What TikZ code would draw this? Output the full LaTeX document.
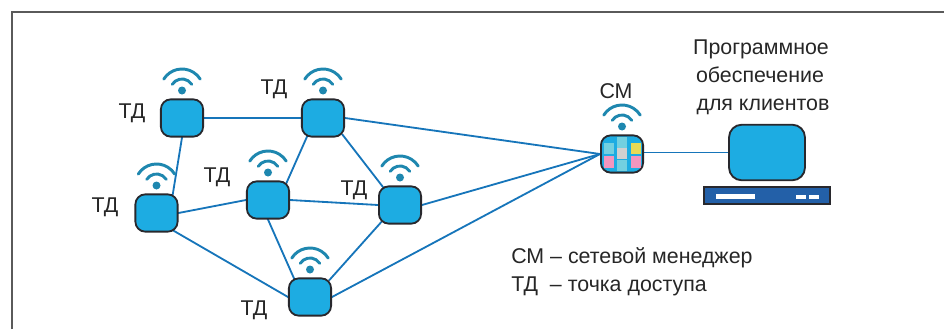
\documentclass[tikz,border=0pt]{standalone}
\usepackage{fontspec}
\setmainfont{Liberation Sans}
\usetikzlibrary{backgrounds}
\definecolor{apblue}{RGB}{29,172,226}
\definecolor{linkblue}{RGB}{22,117,186}
\definecolor{wifiblue}{RGB}{30,135,175}
\definecolor{outline}{RGB}{40,40,45}
\definecolor{baseblue}{RGB}{35,96,168}
\definecolor{frameg}{RGB}{90,90,90}
\definecolor{cellcyan}{RGB}{115,208,224}
\definecolor{cellpink}{RGB}{243,150,190}
\definecolor{cellyellow}{RGB}{232,218,85}
\definecolor{cellgray}{RGB}{208,208,208}
\tikzset{
  apbox/.style={rectangle, draw=outline, line width=1.3pt, fill=apblue, rounded corners=7pt, minimum width=30pt, minimum height=26.5pt, inner sep=0pt},
  link/.style={draw=linkblue, line width=1.3pt, shorten <=-3pt, shorten >=-3pt},
  label/.style={font=\fontsize{15.2}{15.2}\selectfont, text=black!85, inner sep=0pt, anchor=base},
  wave/.style={draw=wifiblue, line width=2.1pt, line cap=round},
  cell/.style={rectangle, inner sep=0pt, minimum width=7.1pt, minimum height=7.9pt},
  bar/.style={rectangle, fill=white, inner sep=0pt, minimum height=3pt},
}
% wifi sign above a box: x and y of the box's top middle
\newcommand{\wifi}[2]{%
  \fill[wifiblue] (#1,#2-8) circle (4);
  \draw[wave] (#1,#2-8) ++(212:11.5) arc[start angle=212, end angle=328, radius=11.5];
  \draw[wave] (#1,#2-8) ++(212:21.5) arc[start angle=212, end angle=328, radius=21.5];
}
\begin{document}
\begin{tikzpicture}[x=0.025cm, y=-0.025cm]
    \useasboundingbox (0,0) rectangle (944,329);
    % Frame
    \coordinate (FL) at (12,329);
    \coordinate (FC) at (12,12);
    \coordinate (FR) at (944,12);
    \draw[frameg, line width=1.4pt] (FL) -- (FC) -- (FR);

    % Access points
    \node[apbox] (AP1) at (182,118) {};
    \node[apbox] (AP2) at (156.5,213) {};
    \node[apbox] (AP3) at (268,200) {};
    \node[apbox] (AP4) at (323,118) {};
    \node[apbox] (AP5) at (400,205) {};
    \node[apbox] (AP6) at (310,297) {};
    \foreach \x/\y in {182/98.5, 156.5/193.5, 268/180.5, 323/98.5, 400/185.5, 310/277.5, 622/134.5}{
      \wifi{\x}{\y}
    }

    % Manager
    \node[apbox] (CM) at (622,154) {};
    \node[cell, fill=cellcyan] (C1) at (609,148.5) {};
    \node[cell, fill=cellpink] (C2) at (609,162) {};
    \node[cell, fill=cellcyan] (C3) at (622,142.5) {};
    \node[cell, fill=cellgray] (C4) at (622,153.5) {};
    \node[cell, fill=cellcyan] (C5) at (622,165.5) {};
    \node[cell, fill=cellyellow] (C6) at (636,148.5) {};
    \node[cell, fill=cellpink] (C7) at (636,162) {};

    % Client terminal
    \node[apbox, minimum width=54pt, minimum height=39.5pt, rounded corners=9pt] (SCR) at (767,152.5) {};
    \node[rectangle, draw=outline, line width=1.3pt, fill=baseblue, minimum width=89.5pt, minimum height=12.5pt, inner sep=0pt] (BASE) at (767,195.5) {};
    \node[bar, minimum width=27.6pt] (B1) at (735.5,196.5) {};
    \node[bar, minimum width=7pt] (B2) at (801,197) {};
    \node[bar, minimum width=7pt] (B3) at (814,197) {};

    % Connections
    \begin{scope}[on background layer]
    \draw[link] (AP1.east) -- (AP4.west);
    \draw[link] (AP1.south) -- (AP2.50);
    \draw[link] (AP2.east) -- (AP3.west);
    \draw[link] (AP2.-44) -- (AP6.west);
    \draw[link] (AP3.south) -- (AP6.130);
    \draw[link] (AP3.45) -- (AP4.-130);
    \draw[link] (AP3.east) -- (AP5.west);
    \draw[link] (AP4.-42) -- (AP5.133);
    \draw[link] (AP5.-137) -- (AP6.42);
    \draw[link] (AP4.east) -- (CM.west);
    \draw[link] (AP5.east) -- (CM.west);
    \draw[link] (AP6.east) -- (CM.west);
    \draw[link] (SCR.west -| CM.east) -- (SCR.west);
    \end{scope}

    % Labels
    \node[label] (L1) at (132,118) {ТД};
    \node[label] (L2) at (105,212) {ТД};
    \node[label] (L3) at (217,182) {ТД};
    \node[label] (L4) at (274,94) {ТД};
    \node[label] (L5) at (354,195) {ТД};
    \node[label] (L6) at (254,315) {ТД};
    \node[label] (L7) at (616,98) {СМ};
    \node[label] (T1) at (761,54) {Программное};
    \node[label] (T2) at (760,82) {обеспечение};
    \node[label] (T3) at (763,110) {для клиентов};
    \node[label, anchor=base west] (K1) at (511,263) {СМ -- сетевой менеджер};
    \node[label, anchor=base west] (K2) at (511,291.5) {ТД\ \ -- точка доступа};
\end{tikzpicture}
\end{document}
